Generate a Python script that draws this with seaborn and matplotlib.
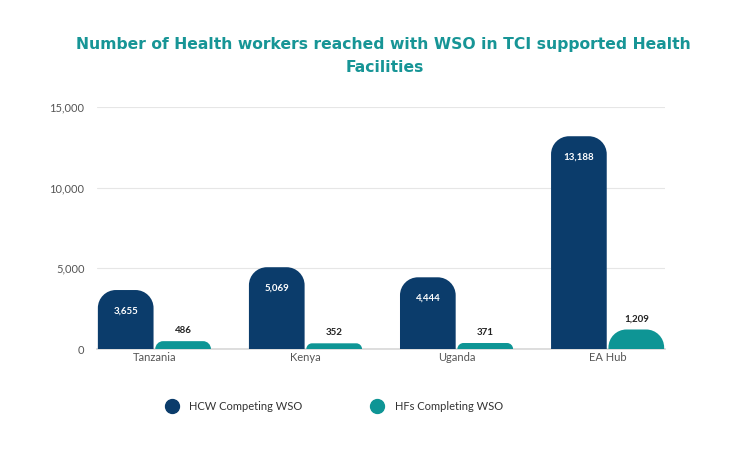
import numpy as np
import pandas as pd
import matplotlib
matplotlib.use("Agg")
import matplotlib.pyplot as plt
import seaborn as sns
from matplotlib.path import Path
from matplotlib.patches import PathPatch
from matplotlib.lines import Line2D

countries = ["Tanzania", "Kenya", "Uganda", "EA Hub"]
hcw_values = [3655, 5069, 4444, 13188]
hf_values = [486, 352, 371, 1209]
series_names = ["HCW Competing WSO", "HFs Completing WSO"]
y_ticks = [0, 5000, 10000, 15000]
title_line1 = "Number of Health workers reached with WSO in TCI supported Health"
title_line2 = "Facilities"

NAVY = "#0B3C6B"
TEAL = "#0E9595"
TITLE_C = "#179596"
GRAY = "#555555"

df = pd.DataFrame({
    "country": countries * 2,
    "value": hcw_values + hf_values,
    "series": [series_names[0]] * 4 + [series_names[1]] * 4,
})

sns.set_theme(style="white")
plt.rcParams["font.family"] = ["Lato", "DejaVu Sans"]

fig = plt.figure(figsize=(7.43, 4.63), dpi=100)
ax = fig.add_axes([97 / 743, 1 - 349 / 463, (665 - 97) / 743, (349 - 107) / 463])

sns.barplot(data=df, x="country", y="value", hue="series", palette=[NAVY, TEAL],
            width=0.76, gap=0.03, legend=False, ax=ax, saturation=1)

ax.set_xlim(-0.38, 3.38)
ax.set_ylim(0, 15000)
ax.set_yticks(y_ticks)
ax.set_yticklabels([f"{v:,}" for v in y_ticks])
ax.set_xlabel("")
ax.set_ylabel("")
ax.grid(axis="y", color="#E6E6E6", linewidth=0.8)
ax.set_axisbelow(True)
for s in ["top", "right", "left"]:
    ax.spines[s].set_visible(False)
ax.spines["bottom"].set_color("#D9D9D9")
ax.tick_params(axis="both", length=0, labelsize=8, labelcolor=GRAY)
ax.tick_params(axis="y", pad=9)
ax.tick_params(axis="x", pad=2)

fig.canvas.draw()


def rounded(patch, r_px, color):
    x, y = patch.get_x(), patch.get_y()
    w, h = patch.get_width(), patch.get_height()
    inv = ax.transData.inverted()
    p0 = inv.transform((0, 0))
    p1 = inv.transform((r_px, r_px))
    sx = abs(p1[0] - p0[0]) / r_px
    sy = abs(p1[1] - p0[1]) / r_px
    w_px, h_px = w / sx, h / sy
    r = min(r_px, w_px / 2, h_px)
    rx, ry = r * sx, r * sy
    k = 0.5523
    top = y + h
    verts = [(x, y), (x, top - ry), (x, top - ry + k * ry), (x + rx - k * rx, top), (x + rx, top),
             (x + w - rx, top), (x + w - rx + k * rx, top), (x + w, top - ry + k * ry), (x + w, top - ry),
             (x + w, y), (x, y)]
    codes = [Path.MOVETO, Path.LINETO, Path.CURVE4, Path.CURVE4, Path.CURVE4,
             Path.LINETO, Path.CURVE4, Path.CURVE4, Path.CURVE4, Path.LINETO, Path.CLOSEPOLY]
    pp = PathPatch(Path(verts, codes), facecolor=color, edgecolor="none", zorder=3)
    ax.add_patch(pp)
    patch.set_visible(False)


for ci, (cont, color) in enumerate(zip(ax.containers, [NAVY, TEAL])):
    vals = hcw_values if ci == 0 else hf_values
    for bar, v in zip(cont.patches, vals):
        rounded(bar, 18, color)
        cx = bar.get_x() + bar.get_width() / 2
        if ci == 0:
            ax.annotate(f"{v:,}", (cx, v), xytext=(0, -15), textcoords="offset points",
                        ha="center", va="center", color="white", fontsize=7, fontweight="bold", zorder=5)
        else:
            ax.annotate(f"{v:,}", (cx, v), xytext=(0, 7.5), textcoords="offset points",
                        ha="center", va="center", color="#222222", fontsize=7, fontweight="bold", zorder=5)

# Title: fit first line to the reference width (~615 px)
t1 = fig.text(383 / 743, 1 - 45 / 463, title_line1, ha="center", va="center", fontsize=12,
              fontweight="bold", color=TITLE_C, family=["DejaVu Sans"])
fig.canvas.draw()
wpx = t1.get_window_extent().width
fs = 12 * 615 / wpx
t1.set_fontsize(fs)
fig.text(385 / 743, 1 - 68 / 463, title_line2, ha="center", va="center", fontsize=fs,
         fontweight="bold", color=TITLE_C, family=["DejaVu Sans"])

handles = [Line2D([0], [0], marker="o", linestyle="", markersize=10, markerfacecolor=c,
                  markeredgecolor=c) for c in [NAVY, TEAL]]
fig.legend(handles, series_names, loc="center left", bbox_to_anchor=(156 / 743, 1 - 406 / 463),
           ncol=2, frameon=False, fontsize=8, labelcolor="#333333", handletextpad=0.6,
           columnspacing=5.7, borderaxespad=0)

fig.savefig("out.png", dpi=100, facecolor="white")
